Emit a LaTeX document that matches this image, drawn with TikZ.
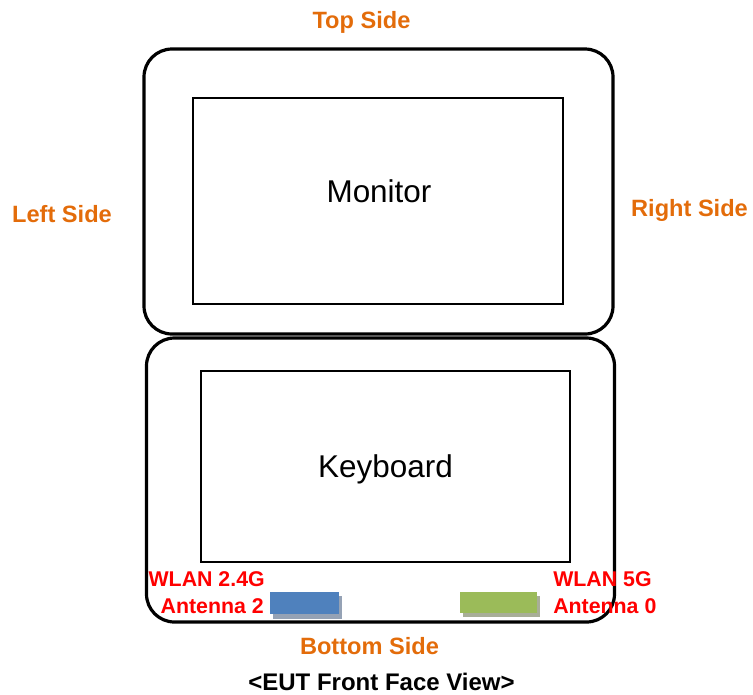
\documentclass[tikz,border=0pt]{standalone}
\usepackage{fontspec}
\setmainfont{Liberation Sans}
\definecolor{sideorange}{HTML}{E36C0A}
\definecolor{antred}{HTML}{FF0000}
\definecolor{antblue}{HTML}{4F81BD}
\definecolor{antgreen}{HTML}{9BBB59}
\definecolor{blueshadow}{HTML}{95A2B5}
\definecolor{greenshadow}{HTML}{A8AE98}
\begin{document}
\begin{tikzpicture}[x=0.75pt,y=-0.75pt,
  outerbox/.style={draw=black,line width=2.4pt,rounded corners=21pt,inner sep=0pt,outer sep=0pt},
  innerbox/.style={draw=black,line width=1.1pt,inner sep=0pt,outer sep=0pt},
  sidelabel/.style={font=\fontsize{17.7}{20}\selectfont\bfseries,text=sideorange,inner sep=0pt,anchor=base},
  antlabel/.style={font=\fontsize{16}{19}\selectfont\bfseries,text=antred,inner sep=0pt},
  partlabel/.style={font=\fontsize{23.6}{28}\selectfont,inner sep=0pt,anchor=base},
  antpatch/.style={inner sep=0pt,outer sep=0pt}]
\useasboundingbox (0,0) rectangle (753,694);
% boxes
\node[outerbox,minimum width=351.75pt,minimum height=213.75pt] (top) at (378.5,191.5) {};
\node[outerbox,minimum width=351pt,minimum height=213pt] (bottom) at (380.5,480) {};
\node[innerbox,minimum width=277.5pt,minimum height=154.5pt] (monitorbox) at (378,201) {};
\node[innerbox,minimum width=276.75pt,minimum height=143.25pt] (keyboardbox) at (385.5,466.5) {};
% antennas with shadows
\node[antpatch,fill=blueshadow,minimum width=51.75pt,minimum height=17pt] (ant2s) at (307.5,607.5) {};
\node[antpatch,fill=antblue,minimum width=51.75pt,minimum height=16.5pt] (ant2) at (304.5,603) {};
\node[antpatch,fill=greenshadow,minimum width=57.75pt,minimum height=15.75pt] (ant0s) at (501.5,606.5) {};
\node[antpatch,fill=antgreen,minimum width=57.75pt,minimum height=15.75pt] (ant0) at (498.5,602.5) {};
% part labels
\node[partlabel] (monitor) at (379,202) {Monitor};
\node[partlabel] (keyboard) at (385.5,477) {Keyboard};
% side labels
\node[sidelabel] (topside) at (361.5,28) {Top Side};
\node[sidelabel] (leftside) at (62,222) {Left Side};
\node[sidelabel] (rightside) at (689.5,216) {Right Side};
\node[sidelabel] (bottomside) at (369.5,654) {Bottom Side};
% antenna labels
\node[antlabel,anchor=base east] (wlan24) at (265,586) {WLAN 2.4G};
\node[antlabel,anchor=base east] (antenna2) at (264,613) {Antenna 2};
\node[antlabel,anchor=base west] (wlan5) at (553,586) {WLAN 5G};
\node[antlabel,anchor=base west] (antenna0) at (553,613) {Antenna 0};
% caption
\node[font=\fontsize{18}{22}\selectfont\bfseries,inner sep=0pt,anchor=base] (caption) at (381.5,690) {<EUT Front Face View>};
\end{tikzpicture}
\end{document}
